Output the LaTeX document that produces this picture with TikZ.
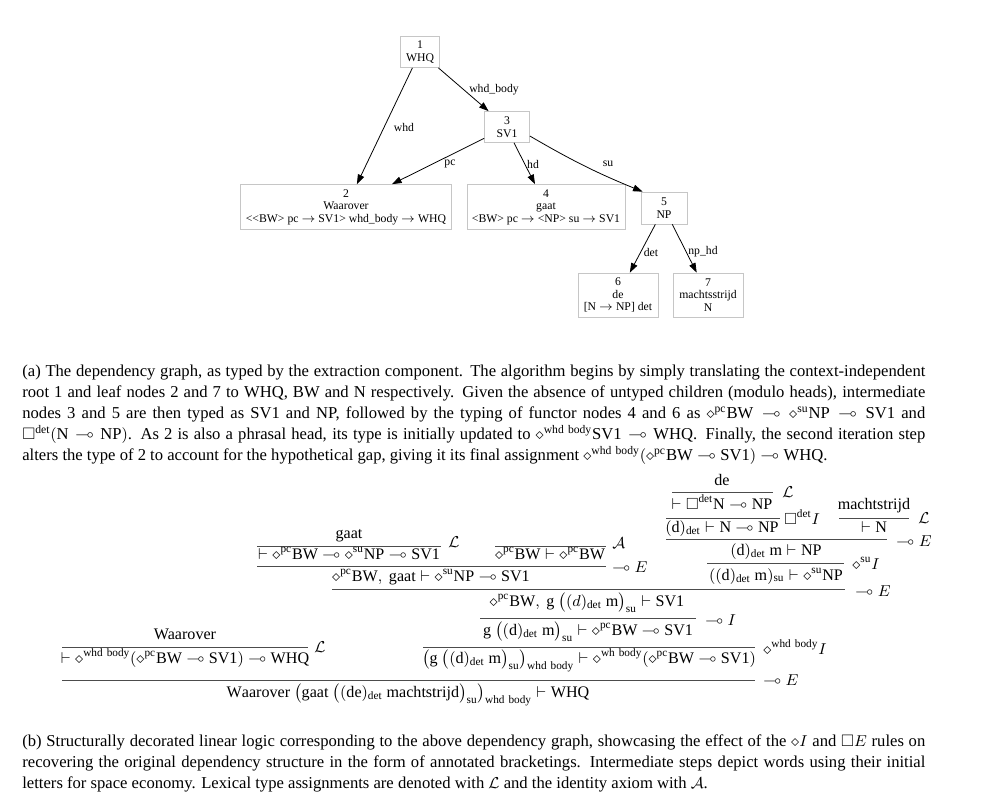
\documentclass[tikz,border=0pt]{standalone}
\usepackage{amsmath}
\usepackage{amssymb}
\usepackage{fontspec}
\setmainfont{Liberation Serif}
\usetikzlibrary{arrows.meta}
\usetikzlibrary{positioning}

\newdimen\pxu
\pxu=0.5714pt
\newcommand{\dia}[1]{\diamond^{\mathrm{#1}}}
\newcommand{\bx}[1]{\Box^{\mathrm{#1}}}
\newcommand{\lol}{\multimap}
\newcommand{\rmt}[1]{\mathrm{#1}}

\tikzset{
  depnode/.style={draw=gray!45, rectangle, inner sep=1pt, align=center,
    font=\fontsize{6.7}{7.1}\selectfont},
  deplabel/.style={inner sep=0pt, font=\fontsize{6.7}{7.1}\selectfont},
  deparrow/.style={-{Triangle[length=5.5pt,width=3.8pt]}, line width=0.45pt},
  capt/.style={inner sep=0pt, anchor=north west, text width=903\pxu, align=justify,
    font=\fontsize{9.5}{12}\selectfont},
  seq/.style={inner sep=0pt, anchor=base, font=\fontsize{9.2}{11}\selectfont},
  rulename/.style={inner sep=0pt, anchor=west, font=\fontsize{9.2}{11}\selectfont},
  infer/.style={draw=black!70, line width=0.5pt},
}

\begin{document}
\begin{tikzpicture}[x=0.5714pt, y=-0.5714pt]
  \useasboundingbox (0,0) rectangle (1000,802);
  % dependency graph
  \node[depnode, minimum width=39\pxu, minimum height=31\pxu] (n1) at (420,52) {1\\WHQ};
  \node[depnode, minimum width=45\pxu, minimum height=31\pxu] (n3) at (507,127) {3\\SV1};
  \node[depnode, minimum width=211\pxu, minimum height=45\pxu] (n2) at (346,207)
    {2\\Waarover\\<{}<BW> pc $\to$ SV1> whd\_body $\to$ WHQ};
  \node[depnode, minimum width=158\pxu, minimum height=45\pxu] (n4) at (546,207)
    {4\\gaat\\<BW> pc $\to$ <NP> su $\to$ SV1};
  \node[depnode, minimum width=46\pxu, minimum height=32\pxu] (n5) at (664,208) {5\\NP};
  \node[depnode, minimum width=80\pxu, minimum height=44\pxu] (n6) at (618,295)
    {6\\de\\{[N $\to$ NP] det}};
  \node[depnode, minimum width=70\pxu, minimum height=44\pxu] (n7) at (708,295)
    {7\\machtsstrijd\\N};

  \draw[deparrow] (n1) -- (n2);
  \draw[deparrow] (n1) -- (n3);
  \draw[deparrow] (n3) -- (n2);
  \draw[deparrow] ([xshift=7\pxu]n3.south) -- ([xshift=-11\pxu]n4.north);
  \draw[deparrow] ([yshift=-9\pxu]n3.east) to[bend right=4] ([xshift=2\pxu]n5.north west);
  \draw[deparrow] (n5) -- (n6);
  \draw[deparrow] (n5) -- (n7);

  \node[deplabel] (lwhd) at (404,127) {whd};
  \node[deplabel] (lbody) at (494,90) {whd\_body};
  \node[deplabel] (lpc) at (450,164) {pc};
  \node[deplabel] (lhd) at (533,164) {hd};
  \node[deplabel] (lsu) at (608,164) {su};
  \node[deplabel] (ldet) at (651,252) {det};
  \node[deplabel] (lnphd) at (703,252) {np\_hd};

  % caption of the graph
  \node[capt] (capa) at (22,365) {(a) The dependency graph, as typed by the extraction
    component. The algorithm begins by simply translating the context-independent\linebreak
    root 1 and leaf nodes 2 and 7 to WHQ, BW and N respectively. Given the absence of untyped
    children (modulo heads), intermediate\linebreak
    nodes 3 and 5 are then typed as SV1 and NP, followed by the typing of functor nodes 4 and 6
    as $\dia{pc}\rmt{BW}\lol\dia{su}\rmt{NP}\lol\rmt{SV1}$ and\linebreak
    $\bx{det}(\rmt{N}\lol\rmt{NP})$. As 2 is also a phrasal head, its type is initially updated
    to $\dia{whd\ body}\rmt{SV1}\lol\rmt{WHQ}$. Finally, the second iteration step\linebreak
    alters the type of 2 to account for the hypothetical gap, giving it its final assignment
    $\dia{whd\ body}(\dia{pc}\rmt{BW}\lol\rmt{SV1})\lol\rmt{WHQ}$.};

  % derivation: de, machtstrijd
  \node[seq] (wde) at (722,485) {de};
  \draw[infer] (672,492) -- (773,492);
  \node[rulename] (rde) at (782,492) {$\mathcal{L}$};
  \node[seq] (tde) at (722,509) {$\vdash\bx{det}\rmt{N}\lol\rmt{NP}$};
  \draw[infer] (666,518) -- (780,518);
  \node[rulename] (rbox) at (784,517) {$\bx{det}I$};
  \node[seq] (sde) at (722,532) {$(\rmt{d})_{\rmt{det}}\vdash\rmt{N}\lol\rmt{NP}$};
  \node[seq] (wma) at (874,509) {machtstrijd};
  \draw[infer] (839,518) -- (909,518);
  \node[rulename] (rma) at (918,518) {$\mathcal{L}$};
  \node[seq] (tma) at (874,532) {$\vdash\rmt{N}$};
  \draw[infer] (666,539) -- (887,539);
  \node[rulename] (rnp) at (896,541) {$\lol E$};
  \node[seq] (snp) at (776,555) {$(\rmt{d})_{\rmt{det}}\ \rmt{m}\vdash\rmt{NP}$};
  \draw[infer] (707,563) -- (844,563);
  \node[rulename] (rsu) at (852,563) {$\dia{su}I$};
  \node[seq] (ssu) at (776,580) {$((\rmt{d})_{\rmt{det}}\ \rmt{m})_{\rmt{su}}\vdash\dia{su}\rmt{NP}$};

  % derivation: gaat and the axiom
  \node[seq] (wga) at (349,538) {gaat};
  \draw[infer] (257,546) -- (441,546);
  \node[rulename] (rga) at (448,542) {$\mathcal{L}$};
  \node[seq] (tga) at (349,559) {$\vdash\dia{pc}\rmt{BW}\lol\dia{su}\rmt{NP}\lol\rmt{SV1}$};
  \draw[infer] (495,546) -- (606,546);
  \node[rulename] (rax) at (612,543) {$\mathcal{A}$};
  \node[seq] (tax) at (550,559) {$\dia{pc}\rmt{BW}\vdash\dia{pc}\rmt{BW}$};
  \draw[infer] (257,566) -- (606,566);
  \node[rulename] (rvp) at (612,567) {$\lol E$};
  \node[seq] (svp) at (431,581) {$\dia{pc}\rmt{BW},\ \rmt{gaat}\vdash\dia{su}\rmt{NP}\lol\rmt{SV1}$};

  % derivation: body of the question
  \draw[infer] (332,589) -- (845,589);
  \node[rulename] (rsv) at (855,591) {$\lol E$};
  \node[seq] (ssv) at (587,606)
    {$\dia{pc}\rmt{BW},\ \rmt{g}\ \big((d)_{\rmt{det}}\ \rmt{m}\big)_{\rmt{su}}\vdash\rmt{SV1}$};
  \draw[infer] (480,618) -- (696,618);
  \node[rulename] (rhyp) at (705,620) {$\lol I$};
  \node[seq] (shyp) at (588,635)
    {$\rmt{g}\ \big((\rmt{d})_{\rmt{det}}\ \rmt{m}\big)_{\rmt{su}}\vdash\dia{pc}\rmt{BW}\lol\rmt{SV1}$};
  \draw[infer] (423,647) -- (755,647);
  \node[rulename] (rbody) at (763,647) {$\dia{whd\ body}I$};
  \node[seq] (sbody) at (589,663)
    {$\big(\rmt{g}\ \big((\rmt{d})_{\rmt{det}}\ \rmt{m}\big)_{\rmt{su}}\big)_{\rmt{whd\ body}}\vdash\dia{wh\ body}(\dia{pc}\rmt{BW}\lol\rmt{SV1})$};

  % derivation: Waarover and the conclusion
  \node[seq] (wwa) at (185,639) {Waarover};
  \draw[infer] (62,647) -- (308,647);
  \node[rulename] (rwa) at (314,647) {$\mathcal{L}$};
  \node[seq] (twa) at (185,663)
    {$\vdash\dia{whd\ body}(\dia{pc}\rmt{BW}\lol\rmt{SV1})\lol\rmt{WHQ}$};
  \draw[infer] (62,680) -- (755,680);
  \node[rulename] (rwhq) at (763,680) {$\lol E$};
  \node[seq] (swhq) at (408,697)
    {$\rmt{Waarover}\ \big(\rmt{gaat}\ \big((\rmt{de})_{\rmt{det}}\ \rmt{machtstrijd}\big)_{\rmt{su}}\big)_{\rmt{whd\ body}}\vdash\rmt{WHQ}$};

  % caption of the derivation
  \node[capt] (capb) at (22,734) {(b) Structurally decorated linear logic corresponding to the
    above dependency graph, showcasing the effect of the $\diamond I$ and $\Box E$ rules on\linebreak
    recovering the original dependency structure in the form of annotated bracketings.
    Intermediate steps depict words using their initial\linebreak
    letters for space economy. Lexical type assignments are denoted with $\mathcal{L}$ and the
    identity axiom with $\mathcal{A}$.};
\end{tikzpicture}
\end{document}
